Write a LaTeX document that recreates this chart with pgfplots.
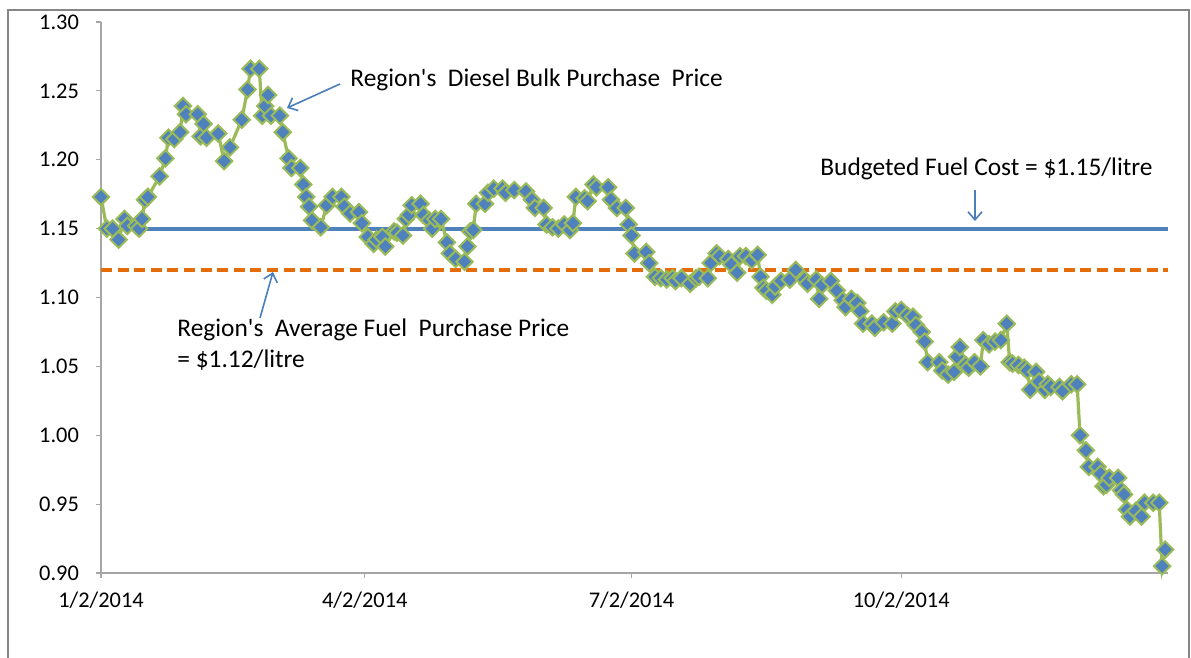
\documentclass[border=0pt]{standalone}
\usepackage{fontspec}
\setmainfont{Carlito}[Ligatures=TeXOff]
\usepackage{pgfplots}
\usepackage{pgfplotstable}
\pgfplotsset{compat=1.18}
\usetikzlibrary{arrows.meta}
\definecolor{serblue}{HTML}{4F81BD}
\definecolor{sergreen}{HTML}{9BBB59}
\definecolor{avgorange}{HTML}{E46C0A}
\definecolor{axgray}{HTML}{A6A6A6}
\definecolor{framegray}{HTML}{868686}
\definecolor{arrowblue}{HTML}{4A7EBB}

\pgfplotstableread{
day price
0 1.173
2 1.150
4 1.150
6 1.142
8 1.157
9 1.152
12 1.152
13 1.150
14 1.157
15 1.171
16 1.173
20 1.188
22 1.201
23 1.216
25 1.215
27 1.220
28 1.239
29 1.233
33 1.233
34 1.217
35 1.226
36 1.216
40 1.219
42 1.199
44 1.209
48 1.229
50 1.251
51 1.266
54 1.266
55 1.232
56 1.239
57 1.247
58 1.232
61 1.232
62 1.220
64 1.201
65 1.194
68 1.194
69 1.182
70 1.173
71 1.166
72 1.156
75 1.151
77 1.167
79 1.173
82 1.173
83 1.166
85 1.161
88 1.162
89 1.154
91 1.144
93 1.139
94 1.142
96 1.144
97 1.137
100 1.148
101 1.147
103 1.145
104 1.157
105 1.160
106 1.167
109 1.168
110 1.160
112 1.156
113 1.150
114 1.157
116 1.157
118 1.140
119 1.132
121 1.128
124 1.126
125 1.137
126 1.148
127 1.149
128 1.168
131 1.168
132 1.176
134 1.179
137 1.179
138 1.176
141 1.178
145 1.177
147 1.171
148 1.165
151 1.165
152 1.153
154 1.151
156 1.150
158 1.153
160 1.149
161 1.154
162 1.173
165 1.172
166 1.170
168 1.182
169 1.180
173 1.180
174 1.171
176 1.165
179 1.165
180 1.153
181 1.145
182 1.132
186 1.133
187 1.125
189 1.115
191 1.114
193 1.113
195 1.114
196 1.112
198 1.114
201 1.110
203 1.114
204 1.115
207 1.114
208 1.125
210 1.132
211 1.130
214 1.128
215 1.124
217 1.118
218 1.130
220 1.130
222 1.127
224 1.131
225 1.115
226 1.107
227 1.105
229 1.102
230 1.108
232 1.112
235 1.113
237 1.120
240 1.113
241 1.110
244 1.113
245 1.099
246 1.109
249 1.112
251 1.105
253 1.098
254 1.093
256 1.099
258 1.096
259 1.090
260 1.081
263 1.081
264 1.078
267 1.082
270 1.081
271 1.090
273 1.091
275 1.087
277 1.086
278 1.080
280 1.075
281 1.068
282 1.053
286 1.053
287 1.047
289 1.044
291 1.046
292 1.057
293 1.064
295 1.051
296 1.049
298 1.053
300 1.050
301 1.069
303 1.066
305 1.068
307 1.069
309 1.081
310 1.053
311 1.052
313 1.051
315 1.049
316 1.047
317 1.033
319 1.046
320 1.039
322 1.033
323 1.037
324 1.035
327 1.035
328 1.032
331 1.037
333 1.037
334 1.000
336 0.989
337 0.977
340 0.977
341 0.972
342 0.963
343 0.964
344 0.969
347 0.969
348 0.960
349 0.957
350 0.946
351 0.941
353 0.945
355 0.941
356 0.951
359 0.951
361 0.951
362 0.905
363 0.917
}\pricedata

\begin{document}
\begin{tikzpicture}
\useasboundingbox (0,0) rectangle (595.5pt,329pt);
\draw[framegray, line width=0.9pt] (4pt,324pt) rectangle (594.5pt,-10pt);
\begin{axis}[
  at={(50.5pt,42.5pt)}, anchor=south west,
  scale only axis, width=533.5pt, height=275.5pt,
  xmin=0, xmax=364, ymin=0.9, ymax=1.3,
  axis x line=bottom, axis y line=left,
  axis line style={axgray, line width=0.8pt, -},
  xtick={0,90,181,273},
  xticklabels={1/2/2014,4/2/2014,7/2/2014,10/2/2014},
  ytick={0.90,0.95,1.00,1.05,1.10,1.15,1.20,1.25,1.30},
  tick align=outside, major tick length=2.5pt,
  tick style={axgray, line width=0.6pt},
  ticklabel style={font=\fontsize{11.2}{13}\selectfont, text=black},
  yticklabel style={xshift=-5pt, /pgf/number format/fixed, /pgf/number format/fixed zerofill, /pgf/number format/precision=2},
  xticklabel style={yshift=-3.5pt},
  /pgf/number format/assume math mode=true,
  clip=false,
]
\addplot[serblue, line width=2pt] coordinates {(0,1.15) (364,1.15)};
\addplot[sergreen, line width=1.6pt, mark=square*, mark size=2.9pt,
  mark options={rotate=45, fill=serblue, draw=sergreen, line width=1pt, solid}]
  table[x=day, y=price] {\pricedata};
\addplot[avgorange, line width=2pt, dash pattern=on 5.5pt off 2.8pt] coordinates {(0,1.12) (364,1.12)};
\end{axis}
\begin{scope}[font=\fontsize{12.7}{15}\selectfont]
\node[anchor=west, inner sep=0pt] at (175pt,289pt) {Region's\ \ Diesel Bulk Purchase\ \ Price};
\node[anchor=west, inner sep=0pt] at (410pt,244.5pt) {Budgeted Fuel Cost = \$1.15/litre};
\node[anchor=west, inner sep=0pt] at (88.5pt,164pt) {Region's\ \ Average Fuel\ \ Purchase Price};
\node[anchor=west, inner sep=0pt] at (88.5pt,149pt) {= \$1.12/litre};
\end{scope}
\begin{scope}[arrowblue, line width=0.8pt, -{Straight Barb[length=4pt,width=7pt]}]
\draw (170pt,287pt) -- (143.5pt,275pt);
\draw (487.5pt,234pt) -- (487.5pt,218.5pt);
\draw (130pt,170pt) -- (136.5pt,193pt);
\end{scope}
\end{tikzpicture}
\end{document}
